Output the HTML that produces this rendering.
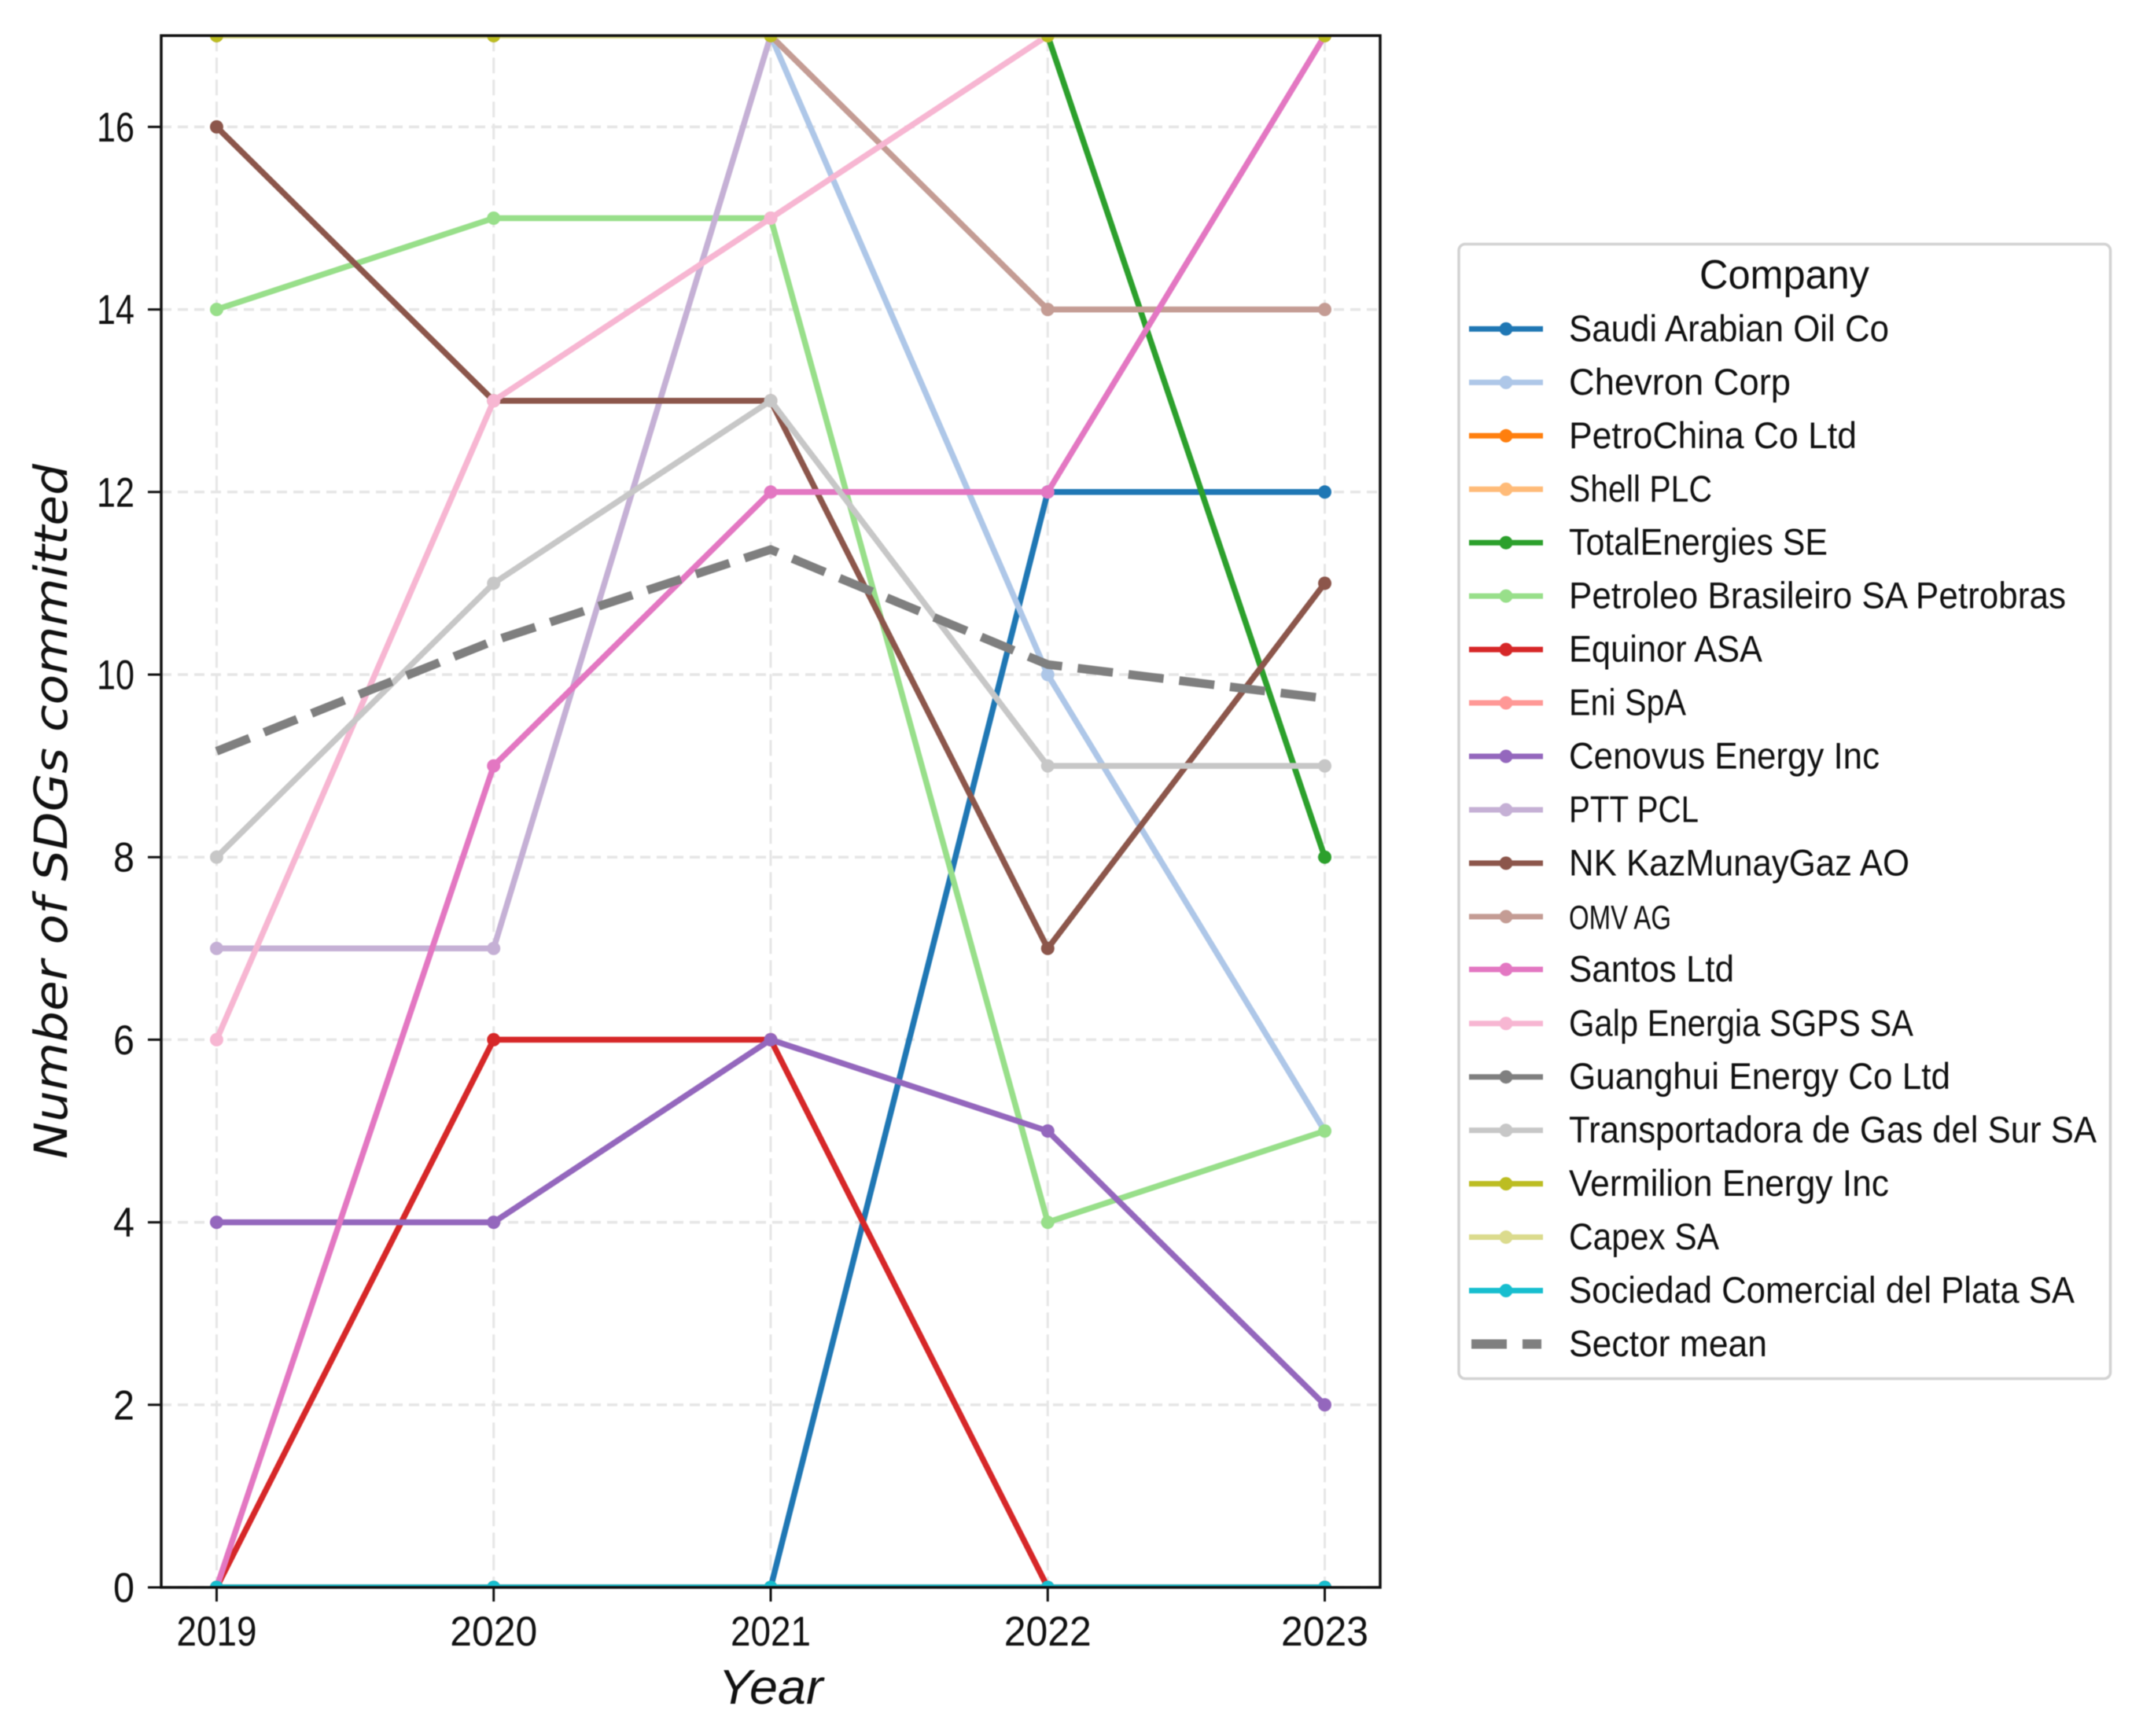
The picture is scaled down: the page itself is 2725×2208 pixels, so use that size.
<!DOCTYPE html>
<html lang="en">
<head>
<meta charset="utf-8">
<title>Number of SDGs committed by company, 2019-2023</title>
<style>
  html, body { margin: 0; padding: 0; background: #fff; }
  svg { display: block; filter: blur(0.6px); }
  text { font-family: "Liberation Sans", sans-serif; fill: #111; }
  .leg { font-size: 47px; }
</style>
</head>
<body>
<svg id="chart" xmlns="http://www.w3.org/2000/svg" width="2725" height="2208" viewBox="0 0 2725 2208">
  <rect x="0" y="0" width="2725" height="2208" fill="#fff"/>
  <defs>
    <clipPath id="plot-clip"><rect x="205" y="45.3" width="1550" height="1973.7"/></clipPath>
  </defs>
  <g id="grid"></g>
  <g id="series" clip-path="url(#plot-clip)"></g>
  <g id="axes"></g>
  <text x="980" y="2167" text-anchor="middle" font-size="62" font-style="italic" textLength="133" lengthAdjust="spacingAndGlyphs" style="font-family:'Liberation Sans',sans-serif">Year</text>
  <text transform="translate(85,1032) rotate(-90)" text-anchor="middle" font-size="58" font-style="italic" textLength="884" lengthAdjust="spacingAndGlyphs" style="font-family:'DejaVu Sans',sans-serif">Number of SDGs committed</text>

  <g>
    <rect x="1855" y="310.5" width="828.5" height="1443" rx="8" ry="8" fill="#fff" stroke="#d2d2d2" stroke-width="3.5"/>
    <text x="2269" y="367" text-anchor="middle" font-size="52" textLength="216" lengthAdjust="spacingAndGlyphs">Company</text>

    <g transform="translate(0,418.4)"><line x1="1868" x2="1962" stroke="#1f77b4" stroke-width="7"/><circle cx="1915" r="8.5" fill="#1f77b4"/><text class="leg" x="1995" y="15.5" textLength="407" lengthAdjust="spacingAndGlyphs">Saudi Arabian Oil Co</text></g>
    <g transform="translate(0,486.35)"><line x1="1868" x2="1962" stroke="#aec7e8" stroke-width="7"/><circle cx="1915" r="8.5" fill="#aec7e8"/><text class="leg" x="1995" y="15.5" textLength="282" lengthAdjust="spacingAndGlyphs">Chevron Corp</text></g>
    <g transform="translate(0,554.3)"><line x1="1868" x2="1962" stroke="#ff7f0e" stroke-width="7"/><circle cx="1915" r="8.5" fill="#ff7f0e"/><text class="leg" x="1995" y="15.5" textLength="366" lengthAdjust="spacingAndGlyphs">PetroChina Co Ltd</text></g>
    <g transform="translate(0,622.25)"><line x1="1868" x2="1962" stroke="#ffbb78" stroke-width="7"/><circle cx="1915" r="8.5" fill="#ffbb78"/><text class="leg" x="1995" y="15.5" textLength="182" lengthAdjust="spacingAndGlyphs">Shell PLC</text></g>
    <g transform="translate(0,690.2)"><line x1="1868" x2="1962" stroke="#2ca02c" stroke-width="7"/><circle cx="1915" r="8.5" fill="#2ca02c"/><text class="leg" x="1995" y="15.5" textLength="329" lengthAdjust="spacingAndGlyphs">TotalEnergies SE</text></g>
    <g transform="translate(0,758.15)"><line x1="1868" x2="1962" stroke="#98df8a" stroke-width="7"/><circle cx="1915" r="8.5" fill="#98df8a"/><text class="leg" x="1995" y="15.5" textLength="632" lengthAdjust="spacingAndGlyphs">Petroleo Brasileiro SA Petrobras</text></g>
    <g transform="translate(0,826.1)"><line x1="1868" x2="1962" stroke="#d62728" stroke-width="7"/><circle cx="1915" r="8.5" fill="#d62728"/><text class="leg" x="1995" y="15.5" textLength="246" lengthAdjust="spacingAndGlyphs">Equinor ASA</text></g>
    <g transform="translate(0,894.05)"><line x1="1868" x2="1962" stroke="#ff9896" stroke-width="7"/><circle cx="1915" r="8.5" fill="#ff9896"/><text class="leg" x="1995" y="15.5" textLength="149" lengthAdjust="spacingAndGlyphs">Eni SpA</text></g>
    <g transform="translate(0,962)"><line x1="1868" x2="1962" stroke="#9467bd" stroke-width="7"/><circle cx="1915" r="8.5" fill="#9467bd"/><text class="leg" x="1995" y="15.5" textLength="395" lengthAdjust="spacingAndGlyphs">Cenovus Energy Inc</text></g>
    <g transform="translate(0,1029.95)"><line x1="1868" x2="1962" stroke="#c5b0d5" stroke-width="7"/><circle cx="1915" r="8.5" fill="#c5b0d5"/><text class="leg" x="1995" y="15.5" textLength="165" lengthAdjust="spacingAndGlyphs">PTT PCL</text></g>
    <g transform="translate(0,1097.9)"><line x1="1868" x2="1962" stroke="#8c564b" stroke-width="7"/><circle cx="1915" r="8.5" fill="#8c564b"/><text class="leg" x="1995" y="15.5" textLength="433" lengthAdjust="spacingAndGlyphs">NK KazMunayGaz AO</text></g>
    <g transform="translate(0,1165.85)"><line x1="1868" x2="1962" stroke="#c49c94" stroke-width="7"/><circle cx="1915" r="8.5" fill="#c49c94"/><text class="leg" x="1995" y="15.5" textLength="130" lengthAdjust="spacingAndGlyphs" style="font-size:43px">OMV AG</text></g>
    <g transform="translate(0,1233)"><line x1="1868" x2="1962" stroke="#e377c2" stroke-width="7"/><circle cx="1915" r="8.5" fill="#e377c2"/><text class="leg" x="1995" y="15.5" textLength="210" lengthAdjust="spacingAndGlyphs">Santos Ltd</text></g>
    <g transform="translate(0,1301.75)"><line x1="1868" x2="1962" stroke="#f7b6d2" stroke-width="7"/><circle cx="1915" r="8.5" fill="#f7b6d2"/><text class="leg" x="1995" y="15.5" textLength="438" lengthAdjust="spacingAndGlyphs">Galp Energia SGPS SA</text></g>
    <g transform="translate(0,1369.7)"><line x1="1868" x2="1962" stroke="#7f7f7f" stroke-width="7"/><circle cx="1915" r="8.5" fill="#7f7f7f"/><text class="leg" x="1995" y="15.5" textLength="485" lengthAdjust="spacingAndGlyphs">Guanghui Energy Co Ltd</text></g>
    <g transform="translate(0,1437.65)"><line x1="1868" x2="1962" stroke="#c7c7c7" stroke-width="7"/><circle cx="1915" r="8.5" fill="#c7c7c7"/><text class="leg" x="1995" y="15.5" textLength="671" lengthAdjust="spacingAndGlyphs">Transportadora de Gas del Sur SA</text></g>
    <g transform="translate(0,1505.6)"><line x1="1868" x2="1962" stroke="#bcbd22" stroke-width="7"/><circle cx="1915" r="8.5" fill="#bcbd22"/><text class="leg" x="1995" y="15.5" textLength="407" lengthAdjust="spacingAndGlyphs">Vermilion Energy Inc</text></g>
    <g transform="translate(0,1573.55)"><line x1="1868" x2="1962" stroke="#dbdb8d" stroke-width="7"/><circle cx="1915" r="8.5" fill="#dbdb8d"/><text class="leg" x="1995" y="15.5" textLength="191" lengthAdjust="spacingAndGlyphs">Capex SA</text></g>
    <g transform="translate(0,1641.5)"><line x1="1868" x2="1962" stroke="#17becf" stroke-width="7"/><circle cx="1915" r="8.5" fill="#17becf"/><text class="leg" x="1995" y="15.5" textLength="643" lengthAdjust="spacingAndGlyphs">Sociedad Comercial del Plata SA</text></g>
    <g transform="translate(0,1709.45)"><line x1="1871" x2="1960" stroke="#7f7f7f" stroke-width="12" stroke-dasharray="45 20"/><text class="leg" x="1995" y="15.5" textLength="252" lengthAdjust="spacingAndGlyphs">Sector mean</text></g>
  </g>
</svg>

<script>
// ---- chart data ----
const years = [2019, 2020, 2021, 2022, 2023];
const yTickValues = [0, 2, 4, 6, 8, 10, 12, 14, 16];

const saudiArabianOil = [0, 0, 0, 12, 12];
const chevron = [17, 17, 17, 10, 5];
const petroChina = [0, 0, 0, 0, 0];
const shell = [17, 17, 17, 17, 17];
const totalEnergies = [17, 17, 17, 17, 8];
const petrobras = [14, 15, 15, 4, 5];
const equinor = [0, 6, 6, 0, 0];
const eni = [17, 17, 17, 17, 17];
const cenovus = [4, 4, 6, 5, 2];
const ptt = [7, 7, 17, 17, 17];
const kazMunayGaz = [16, 13, 13, 7, 11];
const omv = [17, 17, 17, 14, 14];
const santos = [0, 9, 12, 12, 17];
const galp = [6, 13, 15, 17, 17];
const guanghui = [0, 0, 0, 0, 0];
const transportadora = [8, 11, 13, 9, 9];
const vermilion = [17, 17, 17, 17, 17];
const capex = [17, 17, 17, 17, 17];
const sociedad = [0, 0, 0, 0, 0];
const sectorMean = [9.16, 10.37, 11.37, 10.11, 9.74];

const seriesNames = ["saudi-arabian-oil", "chevron", "petrochina", "shell", "totalenergies", "petrobras", "equinor", "eni", "cenovus", "ptt", "kazmunaygaz", "omv", "santos", "galp", "guanghui", "transportadora", "vermilion", "capex", "sociedad"];
const seriesValues = [saudiArabianOil, chevron, petroChina, shell, totalEnergies, petrobras, equinor, eni, cenovus, ptt, kazMunayGaz, omv, santos, galp, guanghui, transportadora, vermilion, capex, sociedad];
const palette = ["#1f77b4", "#aec7e8", "#ff7f0e", "#ffbb78", "#2ca02c", "#98df8a", "#d62728", "#ff9896", "#9467bd", "#c5b0d5", "#8c564b", "#c49c94", "#e377c2", "#f7b6d2", "#7f7f7f", "#c7c7c7", "#bcbd22", "#dbdb8d", "#17becf"];

// ---- axis functions ----
const plot = { left: 205, right: 1755, top: 45.3, bottom: 2019 };
const xDomain = [2018.8, 2023.2];
const yDomain = [0, 17];
function xScale(v) {
  return plot.left + (v - xDomain[0]) / (xDomain[1] - xDomain[0]) * (plot.right - plot.left);
}
function yScale(v) {
  return plot.bottom - (v - yDomain[0]) / (yDomain[1] - yDomain[0]) * (plot.bottom - plot.top);
}

const NS = "http://www.w3.org/2000/svg";
function make(tag, attrs, parent) {
  const el = document.createElementNS(NS, tag);
  for (const k in attrs) el.setAttribute(k, attrs[k]);
  parent.appendChild(el);
  return el;
}

const gridGroup = document.getElementById("grid");
const seriesGroup = document.getElementById("series");
const axesGroup = document.getElementById("axes");

// grid
yTickValues.forEach(function (v) {
  const g = make("line", { x1: plot.left, x2: plot.right, y1: yScale(v), y2: yScale(v), stroke: "#e6e6e6", "stroke-width": 3.5, "stroke-dasharray": "13 8" }, gridGroup);
  
  
});
years.forEach(function (v) {
  const g = make("line", { x1: xScale(v), x2: xScale(v), y1: plot.top, y2: plot.bottom, stroke: "#e6e6e6", "stroke-width": 3, "stroke-dasharray": "20 8" }, gridGroup);
  
  
});

// series
seriesValues.forEach(function (values, i) {
  const group = make("g", {}, seriesGroup);
  
  
  const points = values.map(function (v, j) { return xScale(years[j]) + "," + yScale(v); }).join(" ");
  const line = make("polyline", { points: points, fill: "none", stroke: palette[i], "stroke-width": 7.5, "stroke-linejoin": "round" }, group);
  
  
  const markerColor = seriesNames[i] === "capex" ? palette[16] : palette[i];
  values.forEach(function (v, j) {
    const dot = make("circle", { cx: xScale(years[j]), cy: yScale(v), r: 8.5, fill: markerColor }, group);
    
    
  });
});

// sector mean
const meanPoints = sectorMean.map(function (v, j) { return xScale(years[j]) + "," + yScale(v); }).join(" ");
const meanLine = make("polyline", { points: meanPoints, fill: "none", stroke: "#7f7f7f", "stroke-width": 11, "stroke-dasharray": "45 20", "stroke-linejoin": "round" }, seriesGroup);



// spines
const frame = make("rect", { x: plot.left, y: plot.top, width: plot.right - plot.left, height: plot.bottom - plot.top, fill: "none", stroke: "#111", "stroke-width": 3.5 }, axesGroup);



// x ticks and labels
years.forEach(function (v) {
  const t = make("line", { x1: xScale(v), x2: xScale(v), y1: plot.bottom, y2: plot.bottom + 18, stroke: "#111", "stroke-width": 3 }, axesGroup);
  
  
  const text = String(v);
  const ones = text.split("1").length - 1;
  const label = make("text", { x: xScale(v), y: 2093, "text-anchor": "middle", "font-size": 53, textLength: 111 - ones * 9, lengthAdjust: "spacingAndGlyphs" }, axesGroup);
  label.textContent = text;
  
  
});

// y ticks and labels
yTickValues.forEach(function (v) {
  const t = make("line", { x1: plot.left - 17, x2: plot.left, y1: yScale(v), y2: yScale(v), stroke: "#111", "stroke-width": 3 }, axesGroup);
  
  
  const text = String(v);
  const label = make("text", { x: 171, y: yScale(v) + 18.5, "text-anchor": "end", "font-size": 53, textLength: text.length > 1 ? 48 : 27, lengthAdjust: "spacingAndGlyphs" }, axesGroup);
  label.textContent = text;
  
  
});
</script>
</body>
</html>
